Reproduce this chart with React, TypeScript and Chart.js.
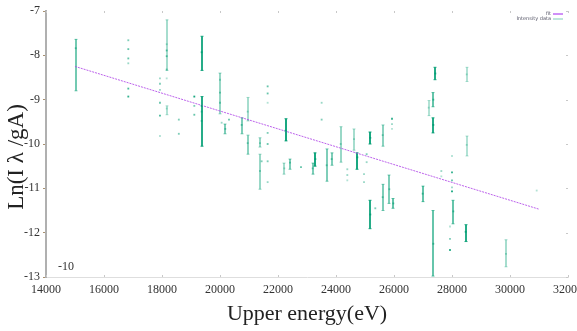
import React, { useEffect, useRef } from "react";
import { Chart, registerables } from "chart.js";

Chart.register(...registerables);

// ---- data ----
const energy = [
  15025,
  16838, 16838, 16838, 16838, 16838, 16838,
  18162, 18162, 18162, 18162, 18162, 18162,
  17930, 17930, 17930, 17930, 17930, 17930,
  18580, 18580,
  19114, 19114, 19114,
  19368, 19368, 19368, 19368,
  20000, 20000, 20000,
  20057, 20183, 20310, 20747,
  20954, 20954,
  21379, 21379, 21436,
  21643, 21643, 21643, 21643, 21643, 21643, 21643,
  22264, 22218, 22414, 22793,
  23195, 23287, 23505, 23505, 23678, 23850,
  24161, 24390, 24390, 24390, 24621, 24735,
  24966, 24966, 25057, 25057,
  25183, 25183, 25355,
  25609, 25609, 25839,
  25931, 25931, 25931, 25977,
  26988, 27195, 27356, 27356, 27425, 27356,
  27632, 27632,
  28000, 28000, 28000, 28000, 28000,
  28046, 27931, 27931, 27931,
  28471, 28506, 28506, 29862, 30920,
];
const lnIntensity = [
  -7.84,
  -7.66, -7.86, -8.07, -8.18, -8.75, -8.93,
  -7.75, -7.89, -8.02, -8.32, -8.52, -9.2,
  -8.52, -8.64, -8.78, -9.07, -9.36, -9.82,
  -9.45, -9.77,
  -8.93, -9.14, -9.34,
  -7.93, -9.14, -9.27, -9.48,
  -8.55, -8.84, -9.07,
  -9.52, -9.66, -9.45, -9.57,
  -9.27, -9.98,
  -9.98, -10.61, -10.39,
  -8.7, -8.86, -9.07, -9.75, -10.0, -10.39, -10.86,
  -9.7, -10.55, -10.42, -10.52,
  -10.55, -10.34, -9.07, -9.45, -10.48, -10.34,
  -10.0, -10.57, -10.7, -10.82, -9.89, -10.3,
  -10.68, -10.86, -10.23, -10.41,
  -9.86, -11.59, -11.45,
  -9.8, -11.2, -11.02,
  -9.43, -9.55, -9.66, -11.34,
  -11.12, -9.18, -9.0, -9.57, -8.41, -12.25,
  -10.61, -10.73,
  -10.27, -10.64, -10.82, -10.98, -11.07,
  -11.52, -11.86, -12.14, -12.39,
  -11.98, -8.43, -10.02, -12.48, -11.05,
];
const lnUpper = [
  -7.64,
  null, null, null, null, null, null,
  -7.2, null, null, null, null, -9.14,
  null, null, null, null, null, null,
  null, null,
  null, null, null,
  -7.57, -8.93, null, null,
  -8.4, null, null,
  null, -9.55, null, -9.41,
  -8.95, -9.8,
  -9.86, -10.23, null,
  null, null, null, null, null, null, null,
  -9.43, -10.43, -10.34, null,
  -10.43, -10.2, null, null, -10.11, -10.2,
  -9.61, null, null, null, -9.66, -10.2,
  null, null, null, null,
  -9.73, -11.27, null,
  -9.57, -10.91, -10.7,
  null, null, null, -11.23,
  -10.95, -9.02, -8.84, -9.41, -8.27, -11.5,
  null, null,
  null, null, null, null, null,
  -11.27, null, null, null,
  -11.82, -8.27, -9.82, -12.16, null,
];
const lnLower = [
  -8.8,
  null, null, null, null, null, null,
  -8.34, null, null, null, null, -9.34,
  null, null, null, null, null, null,
  null, null,
  null, null, null,
  -8.34, -10.05, null, null,
  -9.32, null, null,
  null, -9.77, null, -9.77,
  -9.48, -10.23,
  -10.07, -11.02, null,
  null, null, null, null, null, null, null,
  -9.93, -10.68, -10.57, null,
  -10.68, -10.5, null, null, -10.84, -10.48,
  -10.41, null, null, null, -10.14, -10.57,
  null, null, null, null,
  -10.0, -11.91, null,
  -10.05, -11.5, -11.34,
  null, null, null, -11.45,
  -11.3, -9.36, -9.16, -9.75, -8.55, -12.98,
  null, null,
  null, null, null, null, null,
  -11.8, null, null, null,
  -12.2, -8.59, -10.27, -12.77, null,
];
// relative weight of each measurement (drawn as opacity)
const weight = [
  0.55,
  0.5, 0.6, 0.6, 0.4, 0.7, 0.8,
  0.35, 0.6, 0.6, 0.5, 0.3, 0.3,
  0.4, 0.5, 0.4, 0.6, 0.7, 0.3,
  0.5, 0.5,
  0.9, 0.5, 0.6,
  0.85, 0.85, 0.6, 0.6,
  0.4, 0.5, 0.5,
  0.4, 0.5, 0.6, 0.5,
  0.35, 0.45,
  0.4, 0.4, 0.5,
  0.6, 0.6, 0.3, 0.5, 0.6, 0.5, 0.4,
  0.9, 0.35, 0.5, 0.6,
  0.5, 0.9, 0.4, 0.5, 0.5, 0.5,
  0.4, 0.4, 0.4, 0.3, 0.35, 0.9,
  0.4, 0.4, 0.5, 0.4,
  0.9, 0.85, 0.5,
  0.45, 0.5, 0.5,
  0.8, 0.4, 0.3, 0.6,
  0.6, 0.3, 0.6, 0.85, 0.85, 0.6,
  0.4, 0.3,
  0.3, 0.8, 0.6, 0.4, 0.9,
  0.6, 0.3, 0.5, 0.8,
  0.85, 0.3, 0.3, 0.35, 0.3,
];

const fitEnergy = [15000, 31000];
const fitLn = [-8.25, -11.47];

const xTicksMin = 14000;
const xTicksMax = 32000;
const xStep = 2000;
const yTicksMin = -13;
const yTicksMax = -7;
const yStep = 1;

const xTitle = "Upper energy(eV)";
const yTitle = "Ln(I λ /gA)";
const fitLabel = "fit";
const dataLabel = "Intensity data";
const strayLabel = "-10";
const strayAt = { x: 14414, y: -12.77 };

const GREEN = (a: number) => `rgba(0,158,115,${a})`;
const PURPLE = "rgba(176,70,232,0.85)";
const SERIF = "'Liberation Serif', 'DejaVu Serif', serif";

const errorBarPlugin = {
  id: "errorBars",
  beforeDatasetsDraw(chart: any) {
    const { ctx, chartArea, scales } = chart;
    const xs = scales.x;
    const ys = scales.y;
    ctx.save();
    ctx.beginPath();
    ctx.rect(chartArea.left, chartArea.top, chartArea.right - chartArea.left, chartArea.bottom - chartArea.top);
    ctx.clip();
    for (let i = 0; i < energy.length; i++) {
      const hi = lnUpper[i];
      const lo = lnLower[i];
      if (hi === null || lo === null) continue;
      const x = Math.round(xs.getPixelForValue(energy[i]));
      const y1 = ys.getPixelForValue(hi);
      const y2 = ys.getPixelForValue(lo);
      ctx.strokeStyle = GREEN(weight[i]);
      ctx.lineWidth = 2;
      ctx.beginPath();
      ctx.moveTo(x, y1);
      ctx.lineTo(x, y2);
      ctx.stroke();
      ctx.lineWidth = 1;
      ctx.beginPath();
      ctx.moveTo(x - 1.5, y1);
      ctx.lineTo(x + 1.5, y1);
      ctx.moveTo(x - 1.5, y2);
      ctx.lineTo(x + 1.5, y2);
      ctx.stroke();
    }
    ctx.restore();
  },
};

const extrasPlugin = {
  id: "extras",
  afterDraw(chart: any) {
    const { ctx, chartArea, scales } = chart;
    const xs = scales.x;
    const ys = scales.y;
    ctx.save();
    // mirror / inward ticks
    ctx.strokeStyle = "#c8c8c8";
    ctx.lineWidth = 1;
    ctx.beginPath();
    for (let v = xTicksMin; v <= xTicksMax; v += xStep) {
      const x = Math.round(xs.getPixelForValue(v)) + 0.5;
      ctx.moveTo(x, chartArea.bottom);
      ctx.lineTo(x, chartArea.bottom - 2);
      ctx.moveTo(x, chartArea.top);
      ctx.lineTo(x, chartArea.top + 2);
    }
    for (let v = yTicksMin; v <= yTicksMax; v += yStep) {
      const y = Math.round(ys.getPixelForValue(v)) + 0.5;
      ctx.moveTo(chartArea.right - 2, y);
      ctx.lineTo(chartArea.right, y);
    }
    ctx.stroke();

    // y axis title (rotated, slightly below centre as in the reference)
    ctx.save();
    ctx.translate(17, (chartArea.top + chartArea.bottom) / 2 + 13);
    ctx.rotate(-Math.PI / 2);
    ctx.fillStyle = "#222";
    ctx.font = `23px ${SERIF}`;
    ctx.textAlign = "center";
    ctx.textBaseline = "middle";
    ctx.fillText(yTitle, 0, 0);
    ctx.restore();

    // stray label inside plot
    ctx.fillStyle = "#333";
    ctx.font = `12px ${SERIF}`;
    ctx.textAlign = "left";
    ctx.textBaseline = "middle";
    ctx.fillText(strayLabel, xs.getPixelForValue(strayAt.x), ys.getPixelForValue(strayAt.y));

    // tiny legend, top right
    const lx = chartArea.right - 15;
    ctx.font = "5px 'DejaVu Sans', sans-serif";
    ctx.textAlign = "right";
    ctx.fillStyle = "#556";
    ctx.fillText(fitLabel, lx - 2, chartArea.top + 3);
    ctx.fillText(dataLabel, lx - 2, chartArea.top + 8);
    ctx.lineWidth = 1;
    ctx.strokeStyle = "rgb(160,32,240)";
    ctx.beginPath();
    ctx.moveTo(lx, chartArea.top + 3);
    ctx.lineTo(lx + 10, chartArea.top + 3);
    ctx.stroke();
    ctx.strokeStyle = GREEN(0.5);
    ctx.beginPath();
    ctx.moveTo(lx, chartArea.top + 8);
    ctx.lineTo(lx + 10, chartArea.top + 8);
    ctx.stroke();
    ctx.restore();
  },
};

export default function App() {
  const ref = useRef<HTMLCanvasElement | null>(null);
  useEffect(() => {
    if (!ref.current) return;
    const points = energy.map((e, i) => ({ x: e, y: lnIntensity[i] }));
    const fit = fitEnergy.map((e, i) => ({ x: e, y: fitLn[i] }));
    const chart = new Chart(ref.current, {
      type: "scatter",
      data: {
        datasets: [
          {
            label: dataLabel,
            data: points,
            pointStyle: "rect",
            pointRadius: 1.3,
            pointHoverRadius: 1.3,
            borderWidth: 0,
            backgroundColor: weight.map((w) => GREEN(w)),
          },
          {
            label: fitLabel,
            type: "line",
            data: fit,
            borderColor: PURPLE,
            borderWidth: 1,
            borderDash: [2, 1],
            pointRadius: 0,
            fill: false,
          } as any,
        ],
      },
      options: {
        responsive: false,
        animation: false,
        events: [],
        layout: { padding: { top: 11, right: 9, left: 0, bottom: 0 } },
        plugins: {
          legend: { display: false },
          tooltip: { enabled: false },
        },
        scales: {
          x: {
            type: "linear",
            min: xTicksMin,
            max: xTicksMax,
            ticks: {
              stepSize: xStep,
              autoSkip: false,
              maxRotation: 0,
              padding: 6,
              color: "#333",
              font: { family: SERIF, size: 12 },
              callback: (v: any) => String(v),
            },
            grid: { display: true, drawOnChartArea: false, drawTicks: false },
            border: { color: "#dedede", width: 1 },
            title: {
              display: true,
              text: xTitle,
              color: "#222",
              font: { family: SERIF, size: 22 },
              padding: { top: 0, bottom: 4 },
            },
            afterFit: (s: any) => {
              s.height = 54;
              s.paddingLeft = 0;
              s.paddingRight = 0;
            },
          },
          y: {
            type: "linear",
            min: yTicksMin,
            max: yTicksMax,
            ticks: {
              stepSize: yStep,
              padding: 3,
              color: "#333",
              font: { family: SERIF, size: 12 },
            },
            grid: { display: true, drawOnChartArea: false, tickLength: 3, color: "#a89070" },
            border: { color: "#b0b0b0", width: 2 },
            title: { display: false, text: yTitle },
            afterFit: (s: any) => {
              s.width = 46;
              s.paddingTop = 0;
              s.paddingBottom = 0;
            },
          },
        },
      },
      plugins: [errorBarPlugin, extrasPlugin],
    });
    return () => chart.destroy();
  }, []);
  return (
    <div style={{ position: "absolute", left: 0, top: 0, width: 577, height: 331, background: "#fff" }}>
      <canvas ref={ref} width={577} height={331} style={{ display: "block" }} />
    </div>
  );
}
